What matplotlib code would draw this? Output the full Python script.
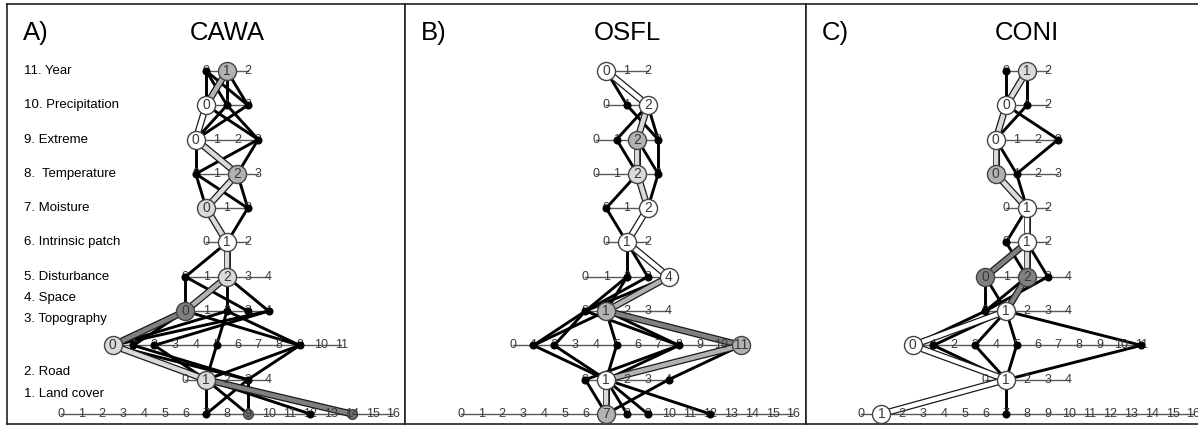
import matplotlib.pyplot as plt

plt.rcParams['font.family'] = ['Liberation Sans', 'DejaVu Sans']

# levels, top to bottom
level_names = ['11. Year', '10. Precipitation', '9. Extreme', '8.  Temperature', '7. Moisture',
               '6. Intrinsic patch', '5. Disturbance', '4. Space', '3. Topography', '2. Road',
               '1. Land cover']
level_max = [2, 2, 3, 3, 2, 2, 4, 4, 11, 4, 16]
label_y = [11, 10, 9, 8, 7, 6, 5.0, 4.38, 3.77, 2.22, 1.58]

species = ['CAWA', 'OSFL', 'CONI']
letters = ['A)', 'B)', 'C)']

# best model path (value chosen at each level) and fill of each step
best_A = [1, 0, 0, 2, 0, 1, 2, 0, 0, 1, 14]
fill_A = ['mid', 'white', 'light', 'light', 'light', 'light', 'mid', 'dark', 'light', 'dark']
best_B = [0, 2, 2, 2, 2, 1, 4, 1, 11, 1, 7]
fill_B = ['white', 'light', 'light', 'light', 'white', 'white', 'mid', 'dark', 'mid', 'light']
best_C = [1, 0, 0, 0, 1, 1, 2, 1, 0, 1, 1]
fill_C = ['light', 'light', 'light', 'light', 'white', 'light', 'dark', 'white', 'white', 'white']

# other model steps: (level, from value, to value on next level, style)
other_A = [(0, 0, 0, 'k'), (0, 0, 2, 'k'), (0, 0, 1, 'k'), (0, 1, 1, 'k'), (0, 1, 2, 'k'),
           (1, 2, 0, 'k'), (1, 1, 0, 'k'), (1, 0, 3, 'k'), (1, 1, 3, 'k'),
           (2, 0, 0, 'k'), (2, 3, 0, 'k'), (2, 3, 2, 'k'),
           (3, 0, 0, 'k'), (3, 0, 2, 'k'), (3, 2, 2, 'k'),
           (4, 2, 1, 'k'), (5, 1, 0, 'k'),
           (6, 0, 0, 'k'), (6, 0, 3, 'k'), (6, 2, 2, 'k'), (6, 2, 4, 'k'),
           (7, 2, 0, 'k'), (7, 4, 0, 'k'), (7, 0, 9, 'k'), (7, 2, 9, 'k'), (7, 2, 5, 'k'),
           (7, 4, 2, 'k'), (7, 0, 1, 'k'),
           (8, 0, 3, 'k'), (8, 2, 1, 'k'), (8, 9, 1, 'k'), (8, 9, 3, 'k'), (8, 5, 1, 'k'),
           (8, 1, 3, 'k'),
           (9, 1, 7, 'k'), (9, 1, 9, 'k'), (9, 1, 12, 'k'), (9, 3, 7, 'k'), (9, 3, 9, 'k'),
           (9, 1, 14, 'k')]
other_B = [(0, 0, 2, 'k'), (0, 0, 1, 'k'),
           (1, 2, 1, 'k'), (1, 2, 3, 'k'), (1, 1, 3, 'k'),
           (2, 1, 2, 'k'), (2, 2, 3, 'k'), (2, 3, 3, 'k'),
           (3, 2, 0, 'k'), (3, 3, 2, 'k'),
           (4, 0, 1, 'k'),
           (5, 1, 2, 'k'), (5, 1, 3, 'k'),
           (6, 2, 0, 'k'), (6, 3, 0, 'k'), (6, 4, 0, 'k'), (6, 2, 1, 'k'),
           (7, 0, 1, 'k'), (7, 0, 2, 'k'), (7, 1, 1, 'k'), (7, 1, 5, 'k'), (7, 1, 8, 'k'),
           (7, 1, 11, 'k'), (7, 0, 8, 'k'),
           (8, 1, 1, 'k'), (8, 2, 1, 'k'), (8, 5, 1, 'k'), (8, 8, 1, 'k'), (8, 11, 1, 'k'),
           (8, 8, 0, 'k'), (8, 11, 4, 'k'),
           (9, 0, 7, 'k'), (9, 1, 8, 'k'), (9, 1, 9, 'k'), (9, 1, 12, 'k'), (9, 4, 7, 'k')]
other_C = [(0, 0, 0, 'k'), (0, 1, 1, 'k'),
           (1, 1, 0, 'k'), (1, 0, 3, 'k'),
           (2, 0, 1, 'k'), (2, 3, 1, 'k'),
           (3, 1, 1, 'k'),
           (4, 1, 0, 'k'),
           (5, 1, 0, 'dark'), (5, 1, 3, 'k'), (5, 0, 2, 'k'),
           (6, 0, 0, 'k'), (6, 0, 1, 'k'), (6, 3, 0, 'k'), (6, 2, 0, 'k'),
           (7, 0, 0, 'k'), (7, 1, 1, 'k'), (7, 1, 3, 'k'), (7, 1, 5, 'k'), (7, 1, 11, 'k'),
           (8, 1, 1, 'k'), (8, 3, 1, 'k'), (8, 5, 1, 'k'), (8, 11, 1, 'k'),
           (9, 1, 7, 'k')]

# circled nodes: (level, value) -> fill
circles_A = {(0, 1): 'mid', (1, 0): 'white', (2, 0): 'white', (3, 2): 'mid', (4, 0): 'light',
             (5, 1): 'white', (6, 2): 'light', (7, 0): 'dark', (8, 0): 'light', (9, 1): 'light',
             (10, 14): 'small', (10, 9): 'small'}
circles_B = {(0, 0): 'white', (1, 2): 'white', (2, 2): 'mid', (3, 2): 'light', (4, 2): 'white',
             (5, 1): 'white', (6, 4): 'white', (7, 1): 'mid', (8, 11): 'mid', (9, 1): 'white',
             (10, 7): 'mid'}
circles_C = {(0, 1): 'light', (1, 0): 'white', (2, 0): 'white', (3, 0): 'mid', (4, 1): 'white',
             (5, 1): 'white', (6, 0): 'dark', (6, 2): 'dark', (7, 1): 'white', (8, 0): 'white',
             (9, 1): 'white', (10, 1): 'white'}

fills = {'white': '#ffffff', 'light': '#dadada', 'mid': '#b2b2b2', 'dark': '#808080',
         'small': '#6e6e6e'}

SP = 20.8  # pixels per unit on the number lines


def node_xy(i, v):
    return v - level_max[i] / 2, 11 - i


def draw_panel(ax, title, letter, best, best_fill, other, circles, off, width):
    ax.set_xlim(-off / SP, (width - off) / SP)
    ax.set_ylim(0.708, 12.95)
    ax.set_xticks([])
    ax.set_yticks([])
    for s in ax.spines.values():
        s.set_linewidth(1.2)
        s.set_color('#222222')

    # number lines
    for i, n in enumerate(level_max):
        ax.plot([-n / 2, n / 2], [11 - i, 11 - i], color='#5a5a5a', lw=1.0, zorder=1)

    steps = [(i, best[i], best[i + 1], best_fill[i]) for i in range(10)] + other
    used = set()
    for i, a, b, style in steps:
        x0, y0 = node_xy(i, a)
        x1, y1 = node_xy(i + 1, b)
        used.add((i, a))
        used.add((i + 1, b))
        if style == 'k':
            ax.plot([x0, x1], [y0, y1], color='black', lw=2.1, zorder=2,
                    solid_capstyle='round')
        else:
            ax.plot([x0, x1], [y0, y1], color='#1a1a1a', lw=5.0, zorder=3)
            ax.plot([x0, x1], [y0, y1], color=fills[style], lw=3.2, zorder=3)

    # small black dots
    for i, v in used:
        if (i, v) not in circles:
            x, y = node_xy(i, v)
            ax.plot(x, y, 'o', ms=4.8, color='black', zorder=5)

    # circled nodes
    for (i, v), style in circles.items():
        x, y = node_xy(i, v)
        size = 7 if style == 'small' else 13
        ax.plot(x, y, 'o', ms=size, mfc=fills[style], mec='#444444', mew=1.0, zorder=6)

    # digits
    for i, n in enumerate(level_max):
        for v in range(n + 1):
            x, y = node_xy(i, v)
            big = (i, v) in circles and circles[(i, v)] != 'small'
            z = 7 if (i, v) in circles else 4
            ax.text(x, y, str(v), ha='center', va='center', fontsize=10 if big else 9,
                    color='#3a3a3a', zorder=z)

    ax.text(0, 12.1, title, ha='center', va='center', fontsize=18.5)
    ax.text(0.04, 12.1, letter, transform=ax.get_yaxis_transform(), ha='left',
            va='center', fontsize=18.5)


fig = plt.figure(figsize=(11.98, 4.25), dpi=100)
W, H = 1198, 425
panels = [(7, 398, 220), (405, 401, 222), (806, 392, 221)]
bests = [best_A, best_B, best_C]
best_fills = [fill_A, fill_B, fill_C]
others = [other_A, other_B, other_C]
circ = [circles_A, circles_B, circles_C]

axes = []
for k, (left, width, off) in enumerate(panels):
    ax = fig.add_axes([left / W, 1 / H, width / W, 420 / H])
    draw_panel(ax, species[k], letters[k], bests[k], best_fills[k], others[k], circ[k],
               off, width)
    axes.append(ax)

axes[2].spines['right'].set_visible(False)

# level labels in panel A
for name, y in zip(level_names, label_y):
    axes[0].text(0.043, y, name, transform=axes[0].get_yaxis_transform(), ha='left',
                 va='center', fontsize=9.5)

fig.savefig('out.png', dpi=100)
